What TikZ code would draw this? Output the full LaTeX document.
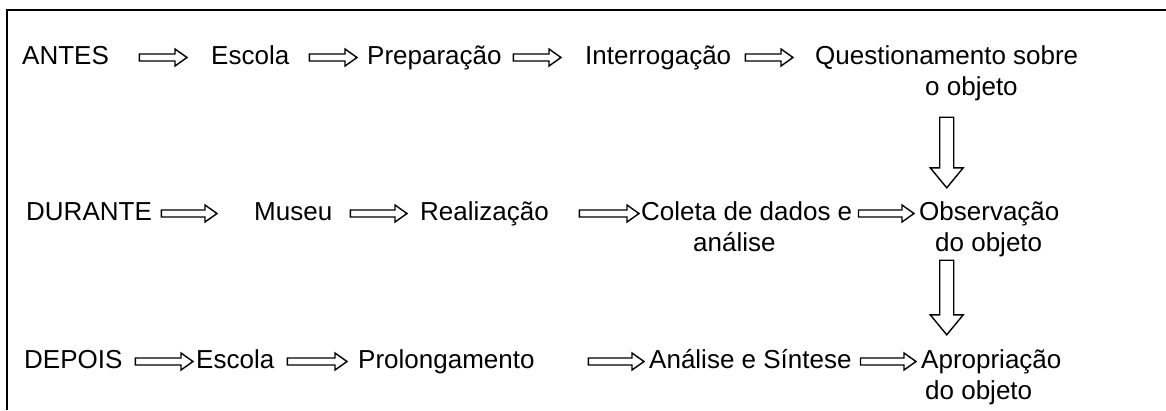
\documentclass[tikz,border=0pt]{standalone}
\usepackage{fontspec}
\setmainfont{Liberation Sans}
\usetikzlibrary{calc}

\begin{document}
\begin{tikzpicture}[x=1pt, y=-1pt,
  txt/.style={anchor=base west, inner sep=0pt, text height=19pt, text depth=6pt, font=\fontsize{26pt}{31pt}\selectfont},
  harr/.style={draw, line width=1.4pt, line join=miter, to path={let \p1=(\tikztostart), \p2=(\tikztotarget) in (\x1,\y1+3.5pt) -- (\x2-12pt,\y1+3.5pt) -- (\x2-12pt,\y1+8.5pt) -- (\x2,\y1) -- (\x2-12pt,\y1-8.5pt) -- (\x2-12pt,\y1-3.5pt) -- (\x1,\y1-3.5pt) -- cycle}},
  varr/.style={draw, line width=1.4pt, line join=miter, to path={let \p1=(\tikztostart), \p2=(\tikztotarget) in (\x1-7pt,\y1) -- (\x1-7pt,\y2+20pt) -- (\x1-16.5pt,\y2+20pt) -- (\x1,\y2) -- (\x1+16.5pt,\y2+20pt) -- (\x1+7pt,\y2+20pt) -- (\x1+7pt,\y1) -- cycle}}]
			\useasboundingbox (0,0) rectangle (1166,410);
			\draw[line width=2pt] (7,410) -- (7,10) -- (1166,10);

			\node[txt] (antes) at (22,64) {ANTES};
			\node[txt] (escolaA) at (211,64) {Escola};
			\node[txt] (prep) at (367,64) {Preparação};
			\node[txt] (interr) at (585,64) {Interrogação};
			\node[txt] (quest) at (815,64) {Questionamento sobre};
			\node[txt] (questB) at (925,95) {o objeto};

			\node[txt] (durante) at (26,220) {DURANTE};
			\node[txt] (museu) at (254,220) {Museu};
			\node[txt] (real) at (420,220) {Realização};
			\node[txt] (coleta) at (641,220) {Coleta de dados e};
			\node[txt] (coletaB) at (693,251) {análise};
			\node[txt] (obs) at (919,220) {Observação};
			\node[txt] (obsB) at (935,251) {do objeto};

			\node[txt] (depois) at (24,368) {DEPOIS};
			\node[txt] (escolaC) at (196,368) {Escola};
			\node[txt] (prolong) at (358,368) {Prolongamento};
			\node[txt] (sintese) at (649,368) {Análise e Síntese};
			\node[txt] (aprop) at (921,368) {Apropriação};
			\node[txt] (apropB) at (925,399) {do objeto};

			\draw[harr] ([xshift=30.3pt]antes.east) to ([xshift=-24pt]escolaA.west);
			\draw[harr] ([xshift=20pt]escolaA.east) to ([xshift=-10pt]prep.west);
			\draw[harr] ([xshift=11.6pt]prep.east) to ([xshift=-24pt]interr.west);
			\draw[harr] ([xshift=14pt]interr.east) to ([xshift=-22pt]quest.west);

			\draw[harr] ([xshift=9.3pt]durante.east) to ([xshift=-37pt]museu.west);
			\draw[harr] ([xshift=18pt]museu.east) to ([xshift=-13pt]real.west);
			\draw[harr] ([xshift=30.4pt]real.east) to ([xshift=-2pt]coleta.west);
			\draw[harr] ([xshift=6pt]coleta.east) to ([xshift=-5pt]obs.west);

			\draw[harr] ([xshift=12.7pt]depois.east) to ([xshift=-3pt]escolaC.west);
			\draw[harr] ([xshift=13pt]escolaC.east) to ([xshift=-11pt]prolong.west);
			\draw[harr] ([xshift=53.7pt]prolong.east) to ([xshift=-5pt]sintese.west);
			\draw[harr] ([xshift=8.7pt]sintese.east) to ([xshift=-5pt]aprop.west);

			\draw[varr] ($(quest.south |- questB.south)+(0,16)$) to ($(quest.south |- obs.north)+(0,-13)$);
			\draw[varr] ($(quest.south |- obsB.south)+(0,3)$) to ($(quest.south |- aprop.north)+(0,-14)$);
		\end{tikzpicture}
\end{document}
